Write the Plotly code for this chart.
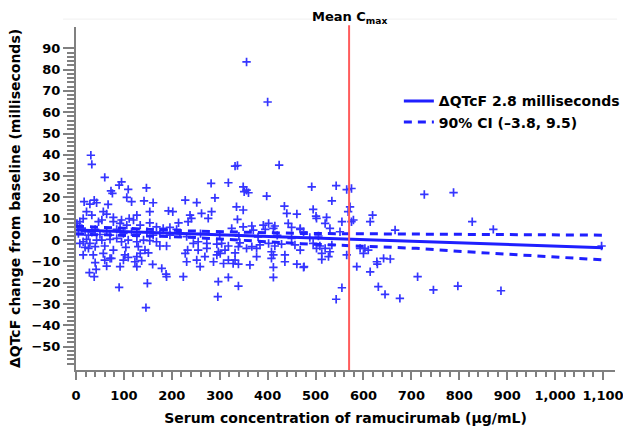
import plotly.graph_objects as go

# ---- data ----
pts_x = [31, 33, 60, 95, 90, 73, 76, 109, 106, 116, 147, 142, 161, 154, 127, 228, 17, 38, 43, 29, 67, 193, 202, 214, 234, 95, 111, 78, 57, 64, 54, 22, 33, 15, 8, 2, 47, 78, 92, 106, 120, 134, 154, 168, 182, 196, 210,
         15, 8, 22, 29, 43, 54, 71, 85, 95, 109, 127, 141, 154, 168, 19, 26, 40, 60, 78, 104, 130, 144, 175, 189, 15, 36, 57, 71, 102, 109, 127, 134, 151, 228, 231, 40, 60, 74, 99, 123, 137, 64, 92, 127, 160, 179, 28, 42, 38, 188, 189, 224, 90, 149, 146,
         3, 5, 12, 19, 26, 33, 40, 50, 64, 71, 85, 99, 116, 127, 148, 161, 175, 196, 217, 231,
         332, 337, 424, 282, 318, 349, 356, 351, 360, 398, 290, 252, 335, 349, 435, 238, 241, 262, 283, 276, 337, 440, 461, 443, 450, 325, 349, 367, 391, 402, 415, 370, 395, 412, 468, 475,
         245, 255, 273, 294, 304, 318, 342, 356, 367, 384, 402, 415, 429, 457, 233, 255, 273, 297, 311, 332, 339, 377, 408, 436, 468, 252, 269, 294, 301, 332, 377, 412, 436, 259, 287, 308, 318, 328, 339, 363, 408, 412, 461, 475, 412, 297, 318, 339, 296,
         260, 300, 340, 380, 420, 450,
         492, 543, 565, 575, 534, 572, 495, 501, 502, 523, 568, 555, 575, 579, 614, 619, 520, 530, 468, 551, 666, 488, 506,
         495, 509, 520, 534, 502, 513, 530, 527, 513, 565, 476, 593, 603, 610, 600, 628, 629, 586, 614, 555, 543, 631, 645, 676, 642, 656,
         727, 788, 827, 871, 1097, 713, 746, 797, 887,
         356, 400]
pts_y = [39.8, 35.5, 29.4, 27.3, 25.8, 23.1, 21.9, 23.8, 20.0, 18.0, 24.5, 18.4, 17.5, 13.3, 11.7, 18.7, 18.0, 18.7, 17.5, 16.9, 16.7, 13.7, 13.3, 8.1, 8.6, 9.4, 10.1, 10.6, 13.3, 12.2, 9.4, 13.3, 11.7, 10.1, 8.6, 7.8, 8.6, 8.6, 7.8, 7.0, 9.4, 7.0, 8.1, 6.2, 5.5, 5.9, 5.0,
         -0.8, -1.6, 0.3, -1.6, 0.0, 0.0, 0.3, 0.8, -0.8, 0.0, -0.8, 0.0, -0.3, -0.8, -3.4, -3.9, -3.1, -2.8, -4.7, -3.4, -3.1, -4.7, -2.8, -2.8, -7.0, -7.0, -6.3, -8.6, -7.0, -8.1, -7.8, -6.3, -6.0, -6.3, -10.2, -10.6, -9.4, -8.6, -9.4, -10.2, -9.7, -12.2, -12.5, -12.5, -11.4, -13.3, -15.3, -13.8, -17.2, -16.0, -17.2, -17.2, -22.2, -20.3, -31.7,
         6.2, 3.1, 5.5, 3.9, 2.3, 3.6, 5.0, 2.6, 3.9, 2.3, 5.0, 3.1, 3.9, 2.8, 3.9, 2.3, 3.1, 2.3, 3.1, 1.6,
         34.7, 35.0, 35.2, 26.6, 26.9, 25.0, 23.4, 22.7, 22.2, 20.6, 19.8, 17.6, 15.6, 14.1, 15.9, 11.7, 10.2, 12.5, 13.3, 10.2, 9.7, 12.5, 12.2, 7.8, 5.9, 5.5, 6.2, 6.6, 7.0, 7.8, 6.6, 4.7, 5.0, 5.5, 5.5, 3.9,
         -1.6, -0.8, -1.6, -1.9, -1.6, -2.8, -1.3, -3.9, -3.1, -2.3, -1.6, -2.8, -1.9, -2.3, -4.7, -4.7, -3.9, -5.5, -4.7, -6.0, -3.1, -3.9, -5.5, -7.0, -4.7, -9.4, -7.8, -7.0, -6.3, -9.4, -7.8, -7.0, -10.2, -12.5, -10.2, -11.0, -9.4, -11.0, -11.3, -11.7, -8.6, -12.8, -11.3, -12.8, -17.5, -19.5, -17.5, -21.6, -26.6,
         3.0, 2.4, 1.8, 1.5, 2.2, 0.8,
         25.0, 25.5, 23.7, 24.2, 18.4, 15.6, 14.4, 11.2, 10.2, 10.6, 13.3, 8.6, 8.6, 9.4, 8.6, 11.7, 7.8, 5.5, 5.0, 3.9, 4.7, 1.2, 1.9,
         -1.6, -2.8, -3.9, -2.3, -3.9, -6.3, -5.5, -7.8, -9.1, -7.0, -12.5, -3.9, -3.9, -4.7, -6.3, -10.2, -11.3, -12.5, -14.9, -22.4, -27.8, -21.9, -25.5, -27.4, -8.6, -8.9,
         21.4, 22.3, 8.6, 5.0, -2.8, -17.2, -23.4, -21.6, -23.8,
         83.6, 64.8]

fit_x = [0, 1100]
fit_y = [4.7, -3.6]
ci_x = [0, 230, 470, 710, 815, 1100]
ci_upper = [6.5, 4.3, 3.1, 2.7, 2.6, 2.3]
ci_lower = [2.8, 1.4, -1.7, -3.9, -5.5, -9.3]
mean_cmax = 570

fit_label = "ΔQTcF 2.8 milliseconds"
ci_label = "90% CI (–3.8, 9.5)"
x_title = "Serum concentration of ramucirumab (µg/mL)"
y_title = "ΔQTcF change from baseline (milliseconds)"
x_ticks = list(range(0, 1101, 100))
y_ticks = list(range(-50, 91, 10))

FONT = "DejaVu Sans"
BLUE = "#1f1fff"
GRAY = "#808080"

fig = go.Figure()
fig.add_trace(go.Scatter(
    x=pts_x, y=pts_y, mode="markers", showlegend=False,
    marker=dict(symbol="cross-thin", size=6, line=dict(width=1.7, color="#3535ff"), color="#3535ff"),
))
fig.add_trace(go.Scatter(
    x=fit_x, y=fit_y, mode="lines", name=fit_label,
    line=dict(color=BLUE, width=3),
))
fig.add_trace(go.Scatter(
    x=ci_x, y=ci_upper, mode="lines", name=ci_label, legendgroup="ci",
    line=dict(color=BLUE, width=3, dash="8px,6px"),
))
fig.add_trace(go.Scatter(
    x=ci_x, y=ci_lower, mode="lines", name=ci_label, legendgroup="ci", showlegend=False,
    line=dict(color=BLUE, width=3, dash="8px,6px"),
))

fig.add_shape(type="line", xref="x", yref="paper", x0=mean_cmax, x1=mean_cmax, y0=0, y1=1.005,
              line=dict(color="#ff5c5c", width=2))
fig.add_shape(type="line", xref="paper", yref="paper", x0=-0.024, x1=1.004, y0=1.023, y1=1.023,
              line=dict(color="#f0f0f0", width=1))
fig.add_annotation(x=mean_cmax, y=1, xref="x", yref="paper", yshift=10, showarrow=False,
                   text="Mean C<sub>max</sub>", font=dict(family=FONT, size=13, color="black", weight="bold"),
                   yanchor="middle")

minor_y = [v for v in range(-60, 91, 2) if v % 10 != 0]
minor_x = [v for v in range(0, 1101, 20) if v % 100 != 0]

fig.update_layout(
    width=623, height=426,
    margin=dict(l=76, r=8, t=27, b=56, autoexpand=False),
    paper_bgcolor="white", plot_bgcolor="white",
    font=dict(family=FONT, size=13, color="black"),
    legend=dict(x=0.599, y=0.83, xanchor="left", yanchor="top", bgcolor="rgba(0,0,0,0)",
                font=dict(family=FONT, size=14, color="black", weight="bold"), tracegroupgap=0, itemwidth=30),
    xaxis=dict(range=[0, 1125], automargin=False, showgrid=False, zeroline=False, showline=True, linecolor=GRAY, linewidth=2,
               tickmode="array", tickvals=x_ticks, tickformat=",d", ticks="outside", ticklen=8, tickwidth=2,
               ticklabelstandoff=4, ticklabeloverflow="allow",
               tickcolor=GRAY, tickfont=dict(family=FONT, size=13, color="black", weight="bold"),
               minor=dict(tickmode="array", tickvals=minor_x, ticks="outside", ticklen=5, tickwidth=1.5, tickcolor=GRAY),
               title=dict(text=x_title, font=dict(family=FONT, size=14, color="black", weight="bold"), standoff=12)),
    yaxis=dict(range=[-61, 100], automargin=False, showgrid=False, zeroline=False, showline=True, linecolor=GRAY, linewidth=2,
               tickmode="array", tickvals=y_ticks, ticks="outside", ticklen=11, tickwidth=2,
               ticklabeloverflow="allow",
               tickcolor=GRAY, tickfont=dict(family=FONT, size=13, color="black", weight="bold"),
               minor=dict(tickmode="array", tickvals=minor_y, ticks="outside", ticklen=7, tickwidth=1.5, tickcolor=GRAY),
               title=dict(text=y_title, font=dict(family=FONT, size=14, color="black", weight="bold"), standoff=8)),
)

fig.write_html("out.html", config={"displayModeBar": False},
               post_script="document.body.style.margin='0px';")
